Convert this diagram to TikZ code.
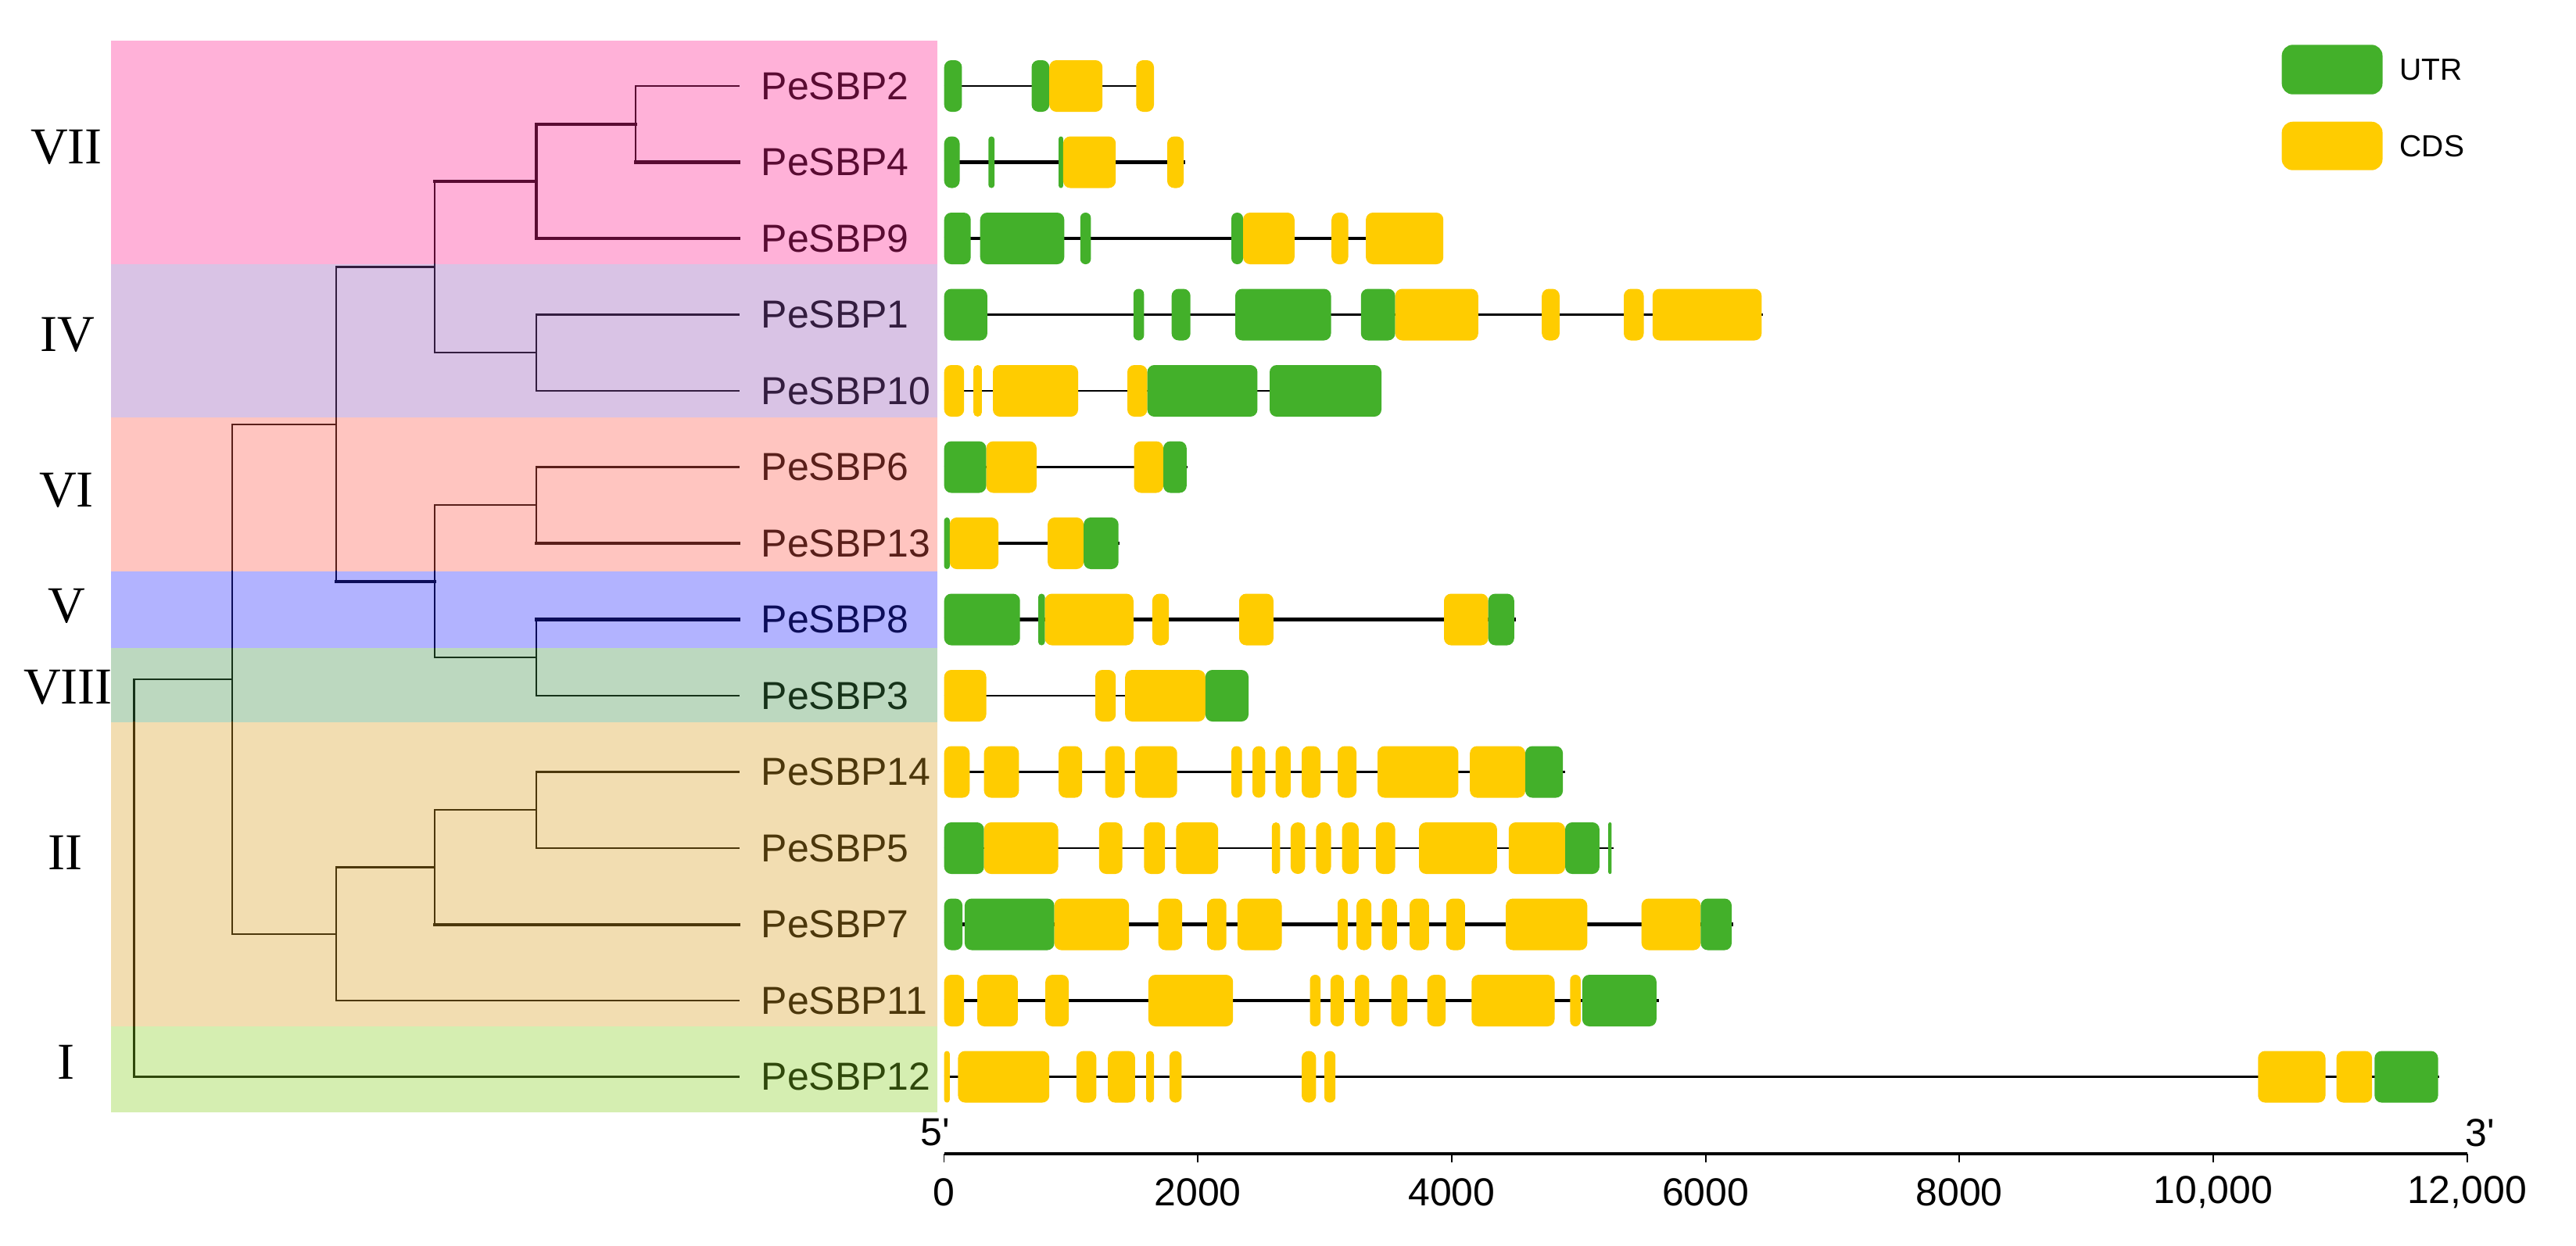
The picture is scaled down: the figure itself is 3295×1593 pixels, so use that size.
\documentclass[tikz,border=0pt]{standalone}
\usepackage{fontspec}
\setmainfont{Liberation Sans}
\newfontfamily\romanfont{Liberation Serif}
\definecolor{utr}{RGB}{67,176,42}
\definecolor{cds}{RGB}{255,204,0}
\definecolor{bVII}{RGB}{255,177,216}\definecolor{dVII}{RGB}{89,11,50}
\definecolor{bIV}{RGB}{217,195,229}\definecolor{dIV}{RGB}{51,29,63}
\definecolor{bVI}{RGB}{255,197,192}\definecolor{dVI}{RGB}{89,31,26}
\definecolor{bV}{RGB}{178,179,255}\definecolor{dV}{RGB}{12,13,89}
\definecolor{bVIII}{RGB}{188,216,191}\definecolor{dVIII}{RGB}{22,50,25}
\definecolor{bII}{RGB}{242,221,177}\definecolor{dII}{RGB}{76,55,11}
\definecolor{bI}{RGB}{213,238,177}\definecolor{dI}{RGB}{47,72,11}
\newcommand\labfont{\fontsize{14.2}{17}\selectfont}
\newcommand\legfont{\fontsize{11.1}{13}\selectfont}
\newcommand\romfont{\romanfont\fontsize{18.8}{22}\selectfont}
% exon: x1 x2 y colour
\newcommand\exon[4]{%
  \pgfmathsetmacro\exr{min(9,(#2-#1)*0.49)*0.2845}%
  \fill[fill=#4, rounded corners=\exr pt] (#1,#3-33) rectangle (#2,#3+33);}
% gene: y, line start, line end, line width, exons
\newcommand\gene[5]{%
  \draw[line width=#4] (#2,#1) -- (#3,#1);
  \foreach \ea/\eb/\ec in {#5} {\exon{\ea}{\eb}{#1}{\ec}}}
% tree branch helpers
\newcommand\br[3]{\draw[#3] (#1 |- #2) -- (#2);}
\newcommand\vt[3]{\draw[tl] (#1 |- #2) -- (#1 |- #3);}
\newcommand\vtk[3]{\draw[tk] (#1 |- #2) -- (#1 |- #3);}
\newcommand\treelines[1]{%
  \begin{scope}[tl/.style={draw=#1,line width=0.65pt,line cap=rect},
                tk/.style={draw=#1,line width=1.15pt,line cap=rect}]
  \br{a}{L2}{tl}\br{a}{L4}{tk}\vt{a}{L2}{L4}
  \br{b}{a}{tk}\br{b}{L9}{tk}\vtk{b}{a}{L9}
  \br{c}{L1}{tl}\br{c}{L10}{tl}\vt{c}{L1}{L10}
  \br{d}{b}{tk}\br{d}{c}{tl}\vt{d}{b}{c}
  \br{e}{L6}{tl}\br{e}{L13}{tk}\vt{e}{L6}{L13}
  \br{f}{L8}{tk}\br{f}{L3}{tl}\vt{f}{L8}{L3}
  \br{g}{e}{tl}\br{g}{f}{tl}\vt{g}{e}{f}
  \br{h}{d}{tl}\br{h}{g}{tk}\vt{h}{d}{g}
  \br{i}{L14}{tl}\br{i}{L5}{tl}\vt{i}{L14}{L5}
  \br{j}{i}{tl}\br{j}{L7}{tk}\vt{j}{i}{L7}
  \br{k}{j}{tl}\br{k}{L11}{tl}\vt{k}{j}{L11}
  \br{m}{h}{tl}\br{m}{k}{tl}\vt{m}{h}{k}
  \br{r}{m}{tl}\br{r}{L12}{tl}\vt{r}{m}{L12}
  \end{scope}}
\begin{document}
\begin{tikzpicture}[x=0.01cm,y=-0.01cm,
  lab/.style={font=\labfont, inner sep=0pt, anchor=west},
  rom/.style={font=\romfont, inner sep=0pt},
  axlab/.style={font=\labfont, inner sep=0pt},
  legtext/.style={font=\legfont, inner sep=0pt, anchor=west}]
\useasboundingbox (0,0) rectangle (3295,1593);
\fill[white] (0,0) rectangle (3295,1593);
% clade bands
\fill[bVII]  (142,51.8)   rectangle (1198.6,337.5);
\fill[bIV]   (142,337.5)  rectangle (1198.6,534);
\fill[bVI]   (142,534)    rectangle (1198.6,730.6);
\fill[bV]    (142,730.6)  rectangle (1198.6,829);
\fill[bVIII] (142,829)    rectangle (1198.6,923.7);
\fill[bII]   (142,923.7)  rectangle (1198.6,1313.4);
\fill[bI]    (142,1313.4) rectangle (1198.6,1422.5);
% leaf and internal coordinates
\foreach \n [count=\q from 0] in {2,4,9,1,10,6,13,8,3,14,5,7,11,12}
  \coordinate (L\n) at (945,110+97.5*\q);
\coordinate (a) at (813,158.75);
\coordinate (b) at (686,231.9);
\coordinate (c) at (686,451.25);
\coordinate (d) at (556,341.6);
\coordinate (e) at (686,646.25);
\coordinate (f) at (686,841.25);
\coordinate (g) at (556,743.75);
\coordinate (h) at (430,542.7);
\coordinate (i) at (686,1036.25);
\coordinate (j) at (556,1109.4);
\coordinate (k) at (430,1194.7);
\coordinate (m) at (297,868.7);
\coordinate (r) at (171.5,1123.1);
% tree, tinted band by band
\begin{scope}\clip (142,51.8) rectangle (1198.6,337.5);\treelines{dVII}\end{scope}
\begin{scope}\clip (142,337.5) rectangle (1198.6,534);\treelines{dIV}\end{scope}
\begin{scope}\clip (142,534) rectangle (1198.6,730.6);\treelines{dVI}\end{scope}
\begin{scope}\clip (142,730.6) rectangle (1198.6,829);\treelines{dV}\end{scope}
\begin{scope}\clip (142,829) rectangle (1198.6,923.7);\treelines{dVIII}\end{scope}
\begin{scope}\clip (142,923.7) rectangle (1198.6,1313.4);\treelines{dII}\end{scope}
\begin{scope}\clip (142,1313.4) rectangle (1198.6,1422.5);\treelines{dI}\end{scope}
% gene labels
\node[lab, text=dVII] (n2)  at (973,110)    {PeSBP2};
\node[lab, text=dVII] (n4)  at (973,207.5)  {PeSBP4};
\node[lab, text=dVII] (n9)  at (973,305)    {PeSBP9};
\node[lab, text=dIV]  (n1)  at (973,402.5)  {PeSBP1};
\node[lab, text=dIV]  (n10) at (973,500)    {PeSBP10};
\node[lab, text=dVI]  (n6)  at (973,597.5)  {PeSBP6};
\node[lab, text=dVI]  (n13) at (973,695)    {PeSBP13};
\node[lab, text=dV]   (n8)  at (973,792.5)  {PeSBP8};
\node[lab, text=dVIII](n3)  at (973,890)    {PeSBP3};
\node[lab, text=dII]  (n14) at (973,987.5)  {PeSBP14};
\node[lab, text=dII]  (n5)  at (973,1085)   {PeSBP5};
\node[lab, text=dII]  (n7)  at (973,1182.5) {PeSBP7};
\node[lab, text=dII]  (n11) at (973,1280)   {PeSBP11};
\node[lab, text=dI]   (n12) at (973,1377.5) {PeSBP12};
% clade names
\node[rom] (cVII)  at (85,188)    {VII};
\node[rom] (cIV)   at (86,428)    {IV};
\node[rom] (cVI)   at (85,627)    {VI};
\node[rom] (cV)    at (85,775.6)  {V};
\node[rom] (cVIII) at (87,879)    {VIII};
\node[rom] (cII)   at (84,1090.6) {II};
\node[rom] (cI)    at (85,1359)   {I};
% gene structures
\gene{110}{1207.7}{1476}{0.63pt}{1207.7/1230.4/utr,1319.5/1342.2/utr,1342.2/1410.2/cds,1453.3/1476/cds}
\gene{207.5}{1207.7}{1516.3}{1.28pt}{1207.7/1227.5/utr,1264.3/1272.1/utr,1354.2/1359.9/utr,1359.9/1427.2/cds,1493/1514.2/cds}
\gene{305}{1207.7}{1747}{1.28pt}{1207.7/1241.7/utr,1253.7/1361.3/utr,1381.8/1395.3/utr,1575.1/1590/utr,1590/1655.8/cds,1703.2/1724.5/cds,1747.1/1846.2/cds}
\gene{402.5}{1207.7}{2255.4}{0.63pt}{1207.7/1262.9/utr,1449.8/1463.3/utr,1498.6/1522.7/utr,1580/1702.5/utr,1740.8/1784.6/utr,1784.6/1890.8/cds,1972.2/1994.9/cds,2077/2102.5/cds,2113.8/2253.3/cds}
\gene{500}{1207.7}{1767}{0.63pt}{1207.7/1233.2/cds,1245.2/1255.8/cds,1270/1379/cds,1442/1467.5/cds,1467.5/1608.4/utr,1624/1767/utr}
\gene{597.5}{1207.7}{1519.2}{0.63pt}{1207.7/1261.5/utr,1261.5/1325.9/cds,1450.5/1488/cds,1488/1517.8/utr}
\gene{695}{1207.7}{1432}{1.28pt}{1207.7/1214.8/utr,1214.8/1277.1/cds,1340.1/1386.1/cds,1386.1/1430.7/utr}
\gene{792.5}{1207.7}{1939}{1.28pt}{1207.7/1304.7/utr,1328/1336.5/utr,1336.5/1449.8/cds,1473.9/1495.1/cds,1585/1628.9/cds,1847/1903.6/cds,1903.6/1936.8/utr}
\gene{890}{1207.7}{1597}{0.63pt}{1207.7/1261.5/cds,1401/1427.2/cds,1439.2/1541.8/cds,1541.8/1597/utr}
\gene{987.5}{1207.7}{2002}{0.63pt}{1207.7/1240.3/cds,1258.7/1303.3/cds,1354.2/1384/cds,1413.7/1438.5/cds,1451.9/1505.7/cds,1575.1/1588.6/cds,1602/1618.3/cds,1631.7/1650.9/cds,1665/1689.1/cds,1711/1735.1/cds,1762/1865.4/cds,1880.2/1951/cds,1951/1999.1/utr}
\gene{1085}{1207.7}{2064.3}{0.63pt}{1207.7/1258.7/utr,1258.7/1353.5/cds,1405.9/1435.6/cds,1463.3/1490.2/cds,1504.3/1558.1/cds,1626.8/1637.4/cds,1650.9/1669.3/cds,1683.4/1702.5/cds,1716.7/1737.9/cds,1759.9/1784.6/cds,1815.1/1914.9/cds,1929.8/2002/cds,2002/2045.9/utr,2057.2/2061.4/utr}
\gene{1182.5}{1207.7}{2217}{1.28pt}{1207.7/1231.1/utr,1233.9/1348.6/utr,1348.6/1444.1/cds,1481.7/1512.1/cds,1544/1568.7/cds,1582.9/1639.5/cds,1711/1723.8/cds,1735.1/1754.2/cds,1767.7/1786.8/cds,1803/1827.8/cds,1849.8/1873.9/cds,1926.2/2030.3/cds,2099.7/2175.4/cds,2175.4/2215/utr}
\gene{1280}{1207.7}{2121.6}{1.28pt}{1207.7/1233.2/cds,1250.2/1301.9/cds,1337.2/1367/cds,1468.9/1577.2/cds,1675.6/1689.1/cds,1701.8/1718.8/cds,1733/1751.4/cds,1779.7/1800.2/cds,1825.7/1849.1/cds,1882.3/1988.5/cds,2008.4/2021.8/cds,2023.9/2118.8/utr}
\gene{1377.5}{1207.7}{3119.8}{0.63pt}{1207.7/1214.8/cds,1225.4/1342.2/cds,1376.9/1402.4/cds,1417.2/1451.9/cds,1466.1/1476/cds,1495.8/1511.4/cds,1665/1683.4/cds,1694/1708.2/cds,2888.2/2974.5/cds,2988.5/3034.1/cds,3037.3/3118.5/utr}
% legend
\fill[utr, rounded corners=4pt] (2918.6,57.3) rectangle (3047.5,120.7);
\fill[cds, rounded corners=4pt] (2918.6,155.7) rectangle (3047.5,217.7);
\node[legtext] (lutr) at (3069,89) {UTR};
\node[legtext] (lcds) at (3069,187) {CDS};
% scale axis
\coordinate (ax0) at (1207.5,1476);
\coordinate (ax12) at (3155.5,1476);
\draw[line width=0.9pt] (ax0) -- (ax12);
\foreach \lbl [count=\q from 0] in {0,2000,4000,6000,8000,{10,000},{12,000}} {
  \draw[line width=0.55pt] (1207.5+324.67*\q,1476) -- ++(0,11);
  \node[axlab] (t\q) at (1207.5+324.67*\q,1525) {\lbl};
}
\node[axlab] (five) at (1196,1449) {5\textquotesingle};
\node[axlab] (three) at (3172,1449) {3\textquotesingle};
\end{tikzpicture}
\end{document}
